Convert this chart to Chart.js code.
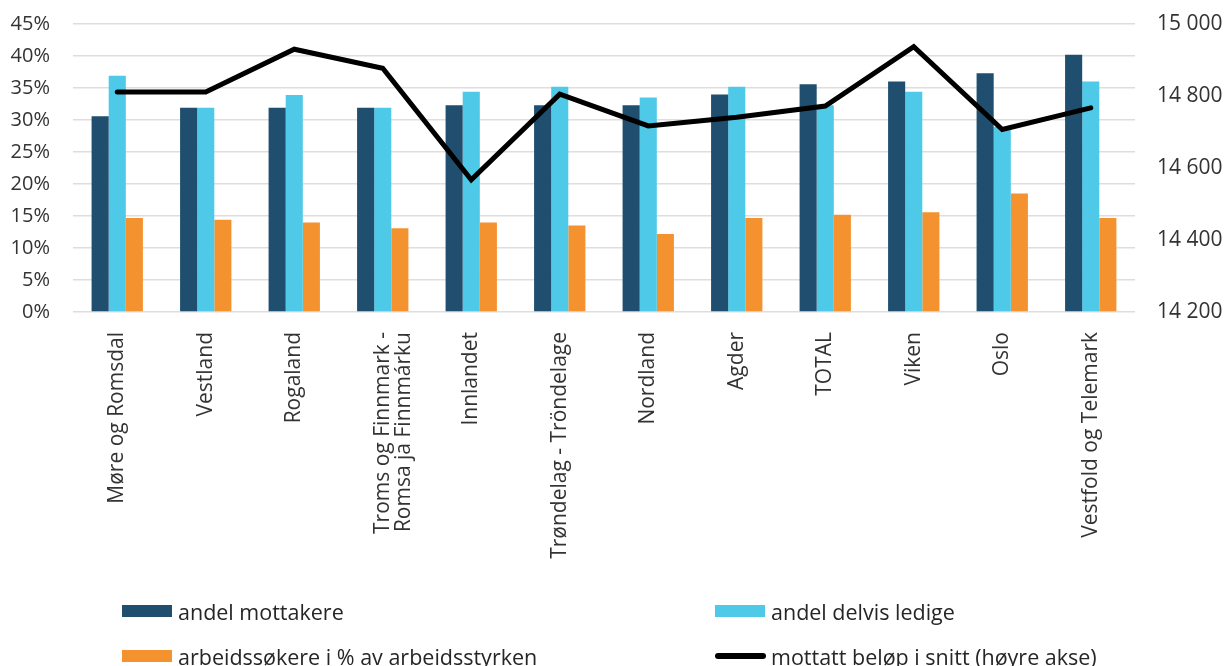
<!DOCTYPE html>
<html>
<head>
<meta charset="utf-8">
<script src="https://cdn.jsdelivr.net/npm/chart.js@4.4.1/dist/chart.umd.min.js"></script>
<style>
  html, body { margin: 0; padding: 0; background: #fff; }
  #wrap { position: relative; width: 1224px; height: 666px; overflow: hidden; }
  #legend { position: absolute; left: 0; top: 0; width: 1224px; height: 666px; pointer-events: none;
            font-family: "Open Sans", sans-serif; font-size: 21.5px; color: #262626; }
  .item { position: absolute; display: flex; align-items: center; white-space: nowrap; }
  .sw { width: 50px; height: 12px; margin-right: 6px; }
  .ln { width: 51px; height: 6px; border-radius: 3px; margin-right: 5px; }
</style>
</head>
<body>
<div id="wrap">
  <canvas id="c" width="1224" height="666"></canvas>
  <div id="legend"></div>
</div>
<script>
const categories = [
  "Møre og Romsdal", "Vestland", "Rogaland",
  ["Troms og Finnmark -", "Romsa ja Finnmárku"],
  "Innlandet", "Trøndelag - Tröndelage", "Nordland", "Agder",
  "TOTAL", "Viken", "Oslo", "Vestfold og Telemark"
];
const andelMottakere = [30.6, 31.9, 31.9, 31.9, 32.3, 32.3, 32.3, 34.0, 35.6, 36.0, 37.3, 40.2];
const andelDelvisLedige = [36.9, 31.9, 33.9, 31.9, 34.4, 35.2, 33.5, 35.2, 32.3, 34.4, 28.9, 36.0];
const arbeidssokere = [14.7, 14.4, 14.0, 13.1, 14.0, 13.5, 12.2, 14.7, 15.2, 15.6, 18.5, 14.7];
const mottattBelop = [14811, 14811, 14930, 14877, 14567, 14805, 14717, 14741, 14772, 14937, 14707, 14767];
const seriesNames = [
  "andel mottakere", "andel delvis ledige",
  "arbeidssøkere i % av arbeidsstyrken", "mottatt beløp i snitt (høyre akse)"
];
const leftTicks = { min: 0, max: 45, step: 5 };
const rightTicks = { min: 14200, max: 15000, step: 200 };

const colors = ["#1F4E6E", "#4EC9E7", "#F59230", "#000000"];
const FONT = "'Open Sans', sans-serif";
const TEXT = "#333333";

function fmtThousands(v) {
  return String(Math.round(v)).replace(/\B(?=(\d{3})+(?!\d))/g, "\u00a0");
}
function noVPad(s) { s.paddingTop = 0; s.paddingBottom = 0; }

const chart = new Chart(document.getElementById("c"), {
  data: {
    labels: categories,
    datasets: [
      { type: "line", label: seriesNames[3], data: mottattBelop, yAxisID: "y2",
        borderColor: colors[3], backgroundColor: colors[3], borderWidth: 5,
        pointRadius: 0, tension: 0, borderCapStyle: "round", borderJoinStyle: "miter", order: 0 },
      { type: "bar", label: seriesNames[0], data: andelMottakere, yAxisID: "y",
        backgroundColor: colors[0], order: 1, categoryPercentage: 0.58, barPercentage: 1.0 },
      { type: "bar", label: seriesNames[1], data: andelDelvisLedige, yAxisID: "y",
        backgroundColor: colors[1], order: 1, categoryPercentage: 0.58, barPercentage: 1.0 },
      { type: "bar", label: seriesNames[2], data: arbeidssokere, yAxisID: "y",
        backgroundColor: colors[2], order: 1, categoryPercentage: 0.58, barPercentage: 1.0 }
    ]
  },
  options: {
    responsive: false,
    animation: false,
    devicePixelRatio: 1,
    layout: { padding: { top: 24, left: 0, right: 0, bottom: 0 } },
    plugins: { legend: { display: false }, tooltip: { enabled: false } },
    scales: {
      x: {
        grid: { display: false, drawTicks: false },
        border: { display: false },
        ticks: { autoSkip: false, minRotation: 90, maxRotation: 90, padding: 20,
                 font: { family: FONT, size: 21, lineHeight: 1.0 }, color: TEXT },
        afterFit(s) { s.height = 354; }
      },
      y: {
        position: "left", min: leftTicks.min, max: leftTicks.max,
        grid: { color: "#dedede", lineWidth: 1.5, drawTicks: false },
        border: { display: false },
        ticks: { stepSize: leftTicks.step, padding: 23, font: { family: FONT, size: 20 }, color: TEXT,
                 callback: v => v + "%" },
        afterFit(s) { s.width = 73; noVPad(s); }
      },
      y2: {
        position: "right", min: rightTicks.min, max: rightTicks.max,
        grid: { display: false, drawTicks: false },
        border: { display: false },
        ticks: { stepSize: rightTicks.step, padding: 22, font: { family: FONT, size: 21 }, color: TEXT,
                 callback: v => fmtThousands(v) },
        afterFit(s) { s.width = 89; noVPad(s); }
      }
    }
  }
});

// HTML legend built from the chart's datasets
const legendPos = [
  { ds: 1, left: 122, top: 611 },
  { ds: 2, left: 715, top: 611 },
  { ds: 3, left: 122, top: 656 },
  { ds: 0, left: 715, top: 656 }
];
const lg = document.getElementById("legend");
legendPos.forEach(p => {
  const d = chart.data.datasets[p.ds];
  const it = document.createElement("div");
  it.className = "item";
  it.style.left = p.left + "px";
  it.style.top = (p.top - 15) + "px";
  it.style.height = "30px";
  const sw = document.createElement("span");
  sw.className = d.type === "line" ? "ln" : "sw";
  sw.style.background = d.type === "line" ? d.borderColor : d.backgroundColor;
  const tx = document.createElement("span");
  tx.textContent = d.label;
  it.appendChild(sw); it.appendChild(tx);
  lg.appendChild(it);
});
</script>
</body>
</html>
